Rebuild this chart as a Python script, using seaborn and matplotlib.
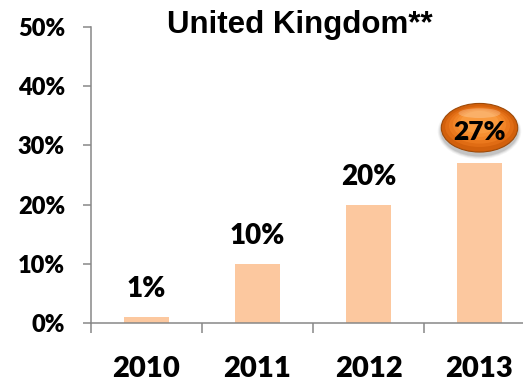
import numpy as np
import pandas as pd
import matplotlib
matplotlib.use("Agg")
import matplotlib.pyplot as plt
import seaborn as sns
from matplotlib.patches import Ellipse
from matplotlib.offsetbox import DrawingArea, AnnotationBbox

# Data
years = ["2010", "2011", "2012", "2013"]
shares = [1, 10, 20, 27]          # percent
y_ticks = [0, 10, 20, 30, 40, 50]
title = "United Kingdom**"

bar_color = "#FCC89F"
axis_gray = "#878787"
label_weight = "heavy"

sns.set_theme(style="white")
plt.rcParams["font.family"] = ["Lato", "DejaVu Sans"]
plt.rcParams["font.weight"] = label_weight

fig = plt.figure(figsize=(5.23, 3.85), dpi=100)
ax = fig.add_axes([91 / 523, 62 / 385, 444 / 523, 296 / 385])

df = pd.DataFrame({"year": years, "share": shares})
sns.barplot(data=df, x="year", y="share", color=bar_color, saturation=1,
            width=0.4, linewidth=0, ax=ax)

ax.set_xlim(-0.5, len(years) - 0.5)
ax.set_ylim(0, 50)
ax.set_xlabel("")
ax.set_ylabel("")

# Spines
for side in ("top", "right"):
    ax.spines[side].set_visible(False)
for side in ("left", "bottom"):
    ax.spines[side].set_color(axis_gray)
    ax.spines[side].set_linewidth(1.1)

# Y axis ticks
ax.set_yticks(y_ticks)
ax.set_yticklabels([f"{v}%" for v in y_ticks], fontweight=label_weight)
ax.tick_params(axis="y", which="major", left=True, direction="out",
               length=5.8, width=1.1, color=axis_gray, pad=13,
               labelsize=17, labelcolor="black")

# X axis: labels at category centres, tick marks at category boundaries
ax.set_xticks(range(len(years)))
ax.set_xticklabels(years, fontweight=label_weight)
ax.set_xticks(np.arange(-0.5, len(years), 1), minor=True)
ax.tick_params(axis="x", which="major", bottom=True, length=0, pad=24,
               labelsize=21, labelcolor="black")
ax.tick_params(axis="x", which="minor", bottom=True, direction="out",
               length=7.2, width=1.1, color=axis_gray)

# Value labels above the bars
for i, v in enumerate(shares[:-1]):
    ax.annotate(f"{v}%", (i, v), xytext=(0, 14.4), textcoords="offset points",
                ha="center", va="baseline", fontsize=20,
                fontweight=label_weight, color="black")

# Highlighted bubble for the latest year
last_i = len(shares) - 1
w, h = 55, 35
da = DrawingArea(w, h, 0, 0)
for k, a in enumerate([0.04, 0.05, 0.07, 0.09]):
    grow = (4 - k) * 1.3
    da.add_artist(Ellipse((w / 2, h / 2 - 2.5), w + grow, h + grow,
                          fc="black", ec="none", alpha=a))
da.add_artist(Ellipse((w / 2, h / 2), w, h, fc="#D2600C", ec="#9E4A08", lw=0.8))
shades = ["#E06C14", "#EA781D", "#F18427", "#F68F31", "#F99A3E"]
for k, c in enumerate(shades):
    f = 1 - (k + 1) * 0.1
    da.add_artist(Ellipse((w / 2, h / 2 + (k + 1) * 0.8), w * f, h * f * 0.93,
                          fc=c, ec="none"))
da.add_artist(Ellipse((w / 2, h * 0.8), w * 0.55, h * 0.2,
                      fc="white", ec="none", alpha=0.22))
ab = AnnotationBbox(da, (last_i, shares[-1]), xybox=(0, 25.5),
                    boxcoords="offset points", frameon=False, pad=0,
                    box_alignment=(0.5, 0.5), annotation_clip=False)
ab.set_zorder(5)
ax.add_artist(ab)
ax.annotate(f"{shares[-1]}%", (last_i, shares[-1]), xytext=(0, 16.6),
            textcoords="offset points", ha="center", va="baseline",
            fontsize=19, fontweight=label_weight, color="black", zorder=6,
            annotation_clip=False)

# Title
fig.text(300 / 523, 1 - 33 / 385, title, ha="center", va="baseline",
         fontsize=22.5, fontweight="bold", color="black",
         family=["Liberation Sans", "DejaVu Sans"])

fig.savefig("out.png", dpi=100)
